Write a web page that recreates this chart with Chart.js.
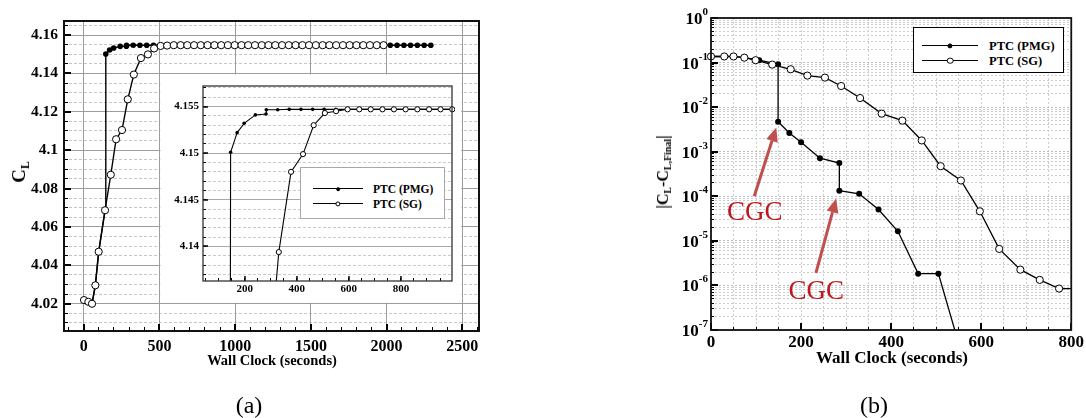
<!DOCTYPE html>
<html>
<head>
<meta charset="utf-8">
<title>PTC convergence</title>
<script src="https://cdn.jsdelivr.net/npm/chart.js@4.4.1/dist/chart.umd.min.js"></script>
<style>
  body { margin: 0; background: #fff; }
  #page { position: relative; width: 1086px; height: 418px; overflow: hidden; font-family: "Liberation Serif", "Times New Roman", serif; color: #000; }
  canvas { position: absolute; }
  .xtitle { position: absolute; transform: translateX(-50%); white-space: nowrap; font-weight: bold; }
  .ytitle { position: absolute; transform: translate(-50%, -50%) rotate(-90deg); white-space: nowrap; font-weight: bold; }
  .ytitle sub { font-size: 62%; vertical-align: baseline; position: relative; top: 0.3em; }
  .panel { position: absolute; transform: translate(-50%, -50%); font-size: 24px; white-space: nowrap; }
  .legend { position: absolute; background: #fff; box-sizing: border-box; font-weight: bold; }
  .legend .sample { position: absolute; border-top: 1.3px solid #000; height: 0; }
  .legend .dot { position: absolute; border-radius: 50%; box-sizing: border-box; transform: translate(-50%, -50%); border: 1px solid #000; }
  .legend .name { position: absolute; white-space: nowrap; line-height: 14px; transform: translateY(-50%); }
</style>
</head>
<body>
<div id="page">
  <canvas id="main-chart" width="500" height="418" style="left:0;top:0"></canvas>
  <canvas id="inset-chart" width="303" height="231" style="left:160px;top:73px"></canvas>
  <canvas id="err-chart" width="526" height="418" style="left:560px;top:0"></canvas>

  <div class="ytitle" style="left:19px;top:172px;font-size:19px">C<sub>L</sub></div>
  <div class="xtitle" style="left:272px;top:352px;font-size:14.5px">Wall Clock (seconds)</div>
  <div class="ytitle" style="left:663px;top:172px;font-size:16px">|C<sub>L</sub>-C<sub>L,Final</sub>|</div>
  <div class="xtitle" style="left:892px;top:348px;font-size:17px">Wall Clock (seconds)</div>

  <div class="legend" id="inset-legend" style="left:300px;top:167px;width:145px;height:52px;border:1px solid #a8a8a8;font-size:11.5px"></div>
  <div class="legend" id="err-legend" style="left:913px;top:27px;width:151px;height:46px;border:1.5px solid #000;font-size:12.5px"></div>

  <div class="panel" style="left:249px;top:405px">(a)</div>
  <div class="panel" style="left:874px;top:405px">(b)</div>
</div>

<script>
const seriesNames = ['PTC (PMG)', 'PTC (SG)'];

// (a) lift coefficient vs wall clock
const pmgTime = [2, 31, 55, 77, 99, 141, 146, 171, 198, 241,
    282, 283, 327, 371, 416, 461, 505, 550, 595, 640,
    684, 729, 773, 818, 863, 908, 952, 997, 1042, 1086,
    1131, 1176, 1220, 1265, 1310, 1354, 1399, 1444, 1488, 1533,
    1578, 1622, 1667, 1712, 1756, 1801, 1846, 1890, 1935, 1980,
    2024, 2069, 2114, 2158, 2203, 2248, 2292];
const pmgCl = [4.0219, 4.0210, 4.0200, 4.0296, 4.0471, 4.0687, 4.1501, 4.1522, 4.1532, 4.1541,
    4.1542, 4.15465, 4.15465, 4.1547, 4.1547, 4.1547, 4.1547, 4.1547, 4.1547, 4.1547,
    4.1547, 4.1547, 4.1547, 4.1547, 4.1547, 4.1547, 4.1547, 4.1547, 4.1547, 4.1547,
    4.1547, 4.1547, 4.1547, 4.1547, 4.1547, 4.1547, 4.1547, 4.1547, 4.1547, 4.1547,
    4.1547, 4.1547, 4.1547, 4.1547, 4.1547, 4.1547, 4.1547, 4.1547, 4.1547, 4.1547,
    4.1547, 4.1547, 4.1547, 4.1547, 4.1547, 4.1547, 4.1547];
const sgTime = [2, 31, 55, 77, 99, 141, 179, 214, 253, 291,
    331, 378, 424, 465, 508, 551, 595, 640, 684, 729,
    773, 818, 863, 908, 952, 997, 1042, 1086, 1131, 1176,
    1220, 1265, 1310, 1354, 1399, 1444, 1488, 1533, 1578, 1622,
    1667, 1712, 1756, 1801, 1846, 1890, 1935, 1980];
const sgCl = [4.0219, 4.0210, 4.0200, 4.0296, 4.0471, 4.0687, 4.0872, 4.1057, 4.1105, 4.1265,
    4.1394, 4.1480, 4.1499, 4.1530, 4.1543, 4.1545, 4.1547, 4.1547, 4.1547, 4.1547,
    4.1547, 4.1547, 4.1547, 4.1547, 4.1547, 4.1547, 4.1547, 4.1547, 4.1547, 4.1547,
    4.1547, 4.1547, 4.1547, 4.1547, 4.1547, 4.1547, 4.1547, 4.1547, 4.1547, 4.1547,
    4.1547, 4.1547, 4.1547, 4.1547, 4.1547, 4.1547, 4.1547, 4.1547];

// (b) |CL - CL,final| vs wall clock
const pmgErrTime = [0, 29.5, 50, 74, 107, 149, 149, 174, 200, 242, 285, 285, 329, 372, 415, 460, 505, 550];
const pmgErr = [0.137, 0.137, 0.137, 0.129, 0.113, 0.0916, 0.00472, 0.00262, 0.00164, 0.000718,
    0.000555, 0.000133, 0.000114, 5.05e-5, 1.64e-5, 1.84e-6, 1.84e-6, 5e-8];
const sgErrTime = [0, 29.5, 50, 74, 99, 136, 177, 214, 253, 289, 331, 379, 425, 468, 510, 555, 597, 640, 687, 730, 773, 818];
const sgErr = [0.137, 0.137, 0.137, 0.129, 0.113, 0.090, 0.0707, 0.051, 0.046, 0.0298, 0.016,
    0.00715, 0.00498, 0.00179, 0.000474, 0.000226, 4.6e-5, 6.6e-6, 2.26e-6, 1.33e-6, 8.5e-7, 8.5e-7];

// tick values and labels
const mainXTicks = [0, 500, 1000, 1500, 2000, 2500];
const mainYTicks = [4.02, 4.04, 4.06, 4.08, 4.1, 4.12, 4.14, 4.16];
const mainYLabels = ['4.02', '4.04', '4.06', '4.08', '4.1', '4.12', '4.14', '4.16'];
const insetXTicks = [200, 400, 600, 800];
const insetYTicks = [4.14, 4.145, 4.15, 4.155];
const insetYLabels = ['4.14', '4.145', '4.15', '4.155'];
const errXTicks = [0, 200, 400, 600, 800];
const errYTicks = [1e-7, 1e-6, 1e-5, 1e-4, 1e-3, 1e-2, 1e-1, 1];
const errYExponents = ['-7', '-6', '-5', '-4', '-3', '-2', '-1', '0'];

// CGC annotations (data coordinates of panel b)
const cgcText = ['CGC', 'CGC'];
const cgcTextTime = [97, 234];
const cgcTextErr = [4.3e-5, 7.2e-7];
const cgcTailTime = [96, 233];
const cgcTailErr = [1.0e-4, 1.9e-6];
const cgcHeadTime = [145, 278];
const cgcHeadErr = [3.5e-3, 8.9e-5];

const serif = '"Liberation Serif", "Times New Roman", serif';

function points(xs, ys) {
    return xs.map((x, i) => ({ x: x, y: ys[i] }));
}

function stepValues(from, to, step) {
    const out = [];
    for (let k = Math.ceil(from / step - 1e-9); k * step <= to + 1e-9; k++) {
        out.push(k * step);
    }
    return out;
}

function logMinorValues(fromExp, toExp) {
    const out = [];
    for (let e = fromExp; e < toExp; e++) {
        for (let m = 2; m <= 9; m++) out.push(m * Math.pow(10, e));
    }
    return out;
}

function fixedSize(size) {
    return function (scale) {
        if (scale.isHorizontal()) scale.height = size;
        else scale.width = size;
    };
}

function useTicks(values) {
    return function (scale) {
        scale.ticks = values.map(v => ({ value: v }));
    };
}

function inRange(scale, v) {
    const lo = Math.min(scale.min, scale.max), hi = Math.max(scale.min, scale.max);
    return v >= lo - 1e-9 && v <= hi + 1e-9;
}

function snap(p, w) {
    return Math.round(w) % 2 === 1 ? Math.round(p - 0.5) + 0.5 : Math.round(p);
}

function drawGrid(chart, spec) {
    const ctx = chart.ctx, area = chart.chartArea;
    const scale = chart.scales[spec.axis];
    ctx.strokeStyle = spec.color;
    ctx.lineWidth = spec.width;
    ctx.setLineDash(spec.dash || []);
    ctx.beginPath();
    spec.values.forEach(v => {
        if (!inRange(scale, v)) return;
        const p = snap(scale.getPixelForValue(v), spec.width);
        if (spec.axis === 'x') {
            ctx.moveTo(p, area.top);
            ctx.lineTo(p, area.bottom);
        } else {
            ctx.moveTo(area.left, p);
            ctx.lineTo(area.right, p);
        }
    });
    ctx.stroke();
    ctx.setLineDash([]);
}

function drawTickMarks(chart, spec) {
    const ctx = chart.ctx, area = chart.chartArea;
    const scale = chart.scales[spec.axis];
    ctx.strokeStyle = '#000';
    ctx.lineWidth = spec.width;
    ctx.beginPath();
    spec.values.forEach(v => {
        if (!inRange(scale, v)) return;
        const p = snap(scale.getPixelForValue(v), spec.width);
        if (spec.axis === 'x') {
            ctx.moveTo(p, area.bottom);
            ctx.lineTo(p, area.bottom - spec.len);
        } else {
            ctx.moveTo(area.left, p);
            ctx.lineTo(area.left + spec.len, p);
        }
    });
    ctx.stroke();
}

function drawArrow(ctx, x1, y1, x2, y2, color) {
    const ang = Math.atan2(y2 - y1, x2 - x1);
    const headLen = 14, headHalf = 6;
    const bx = x2 - headLen * Math.cos(ang), by = y2 - headLen * Math.sin(ang);
    ctx.strokeStyle = color;
    ctx.lineWidth = 3;
    ctx.beginPath();
    ctx.moveTo(x1, y1);
    ctx.lineTo(bx, by);
    ctx.stroke();
    ctx.fillStyle = color;
    ctx.beginPath();
    ctx.moveTo(x2, y2);
    ctx.lineTo(bx + headHalf * Math.sin(ang), by - headHalf * Math.cos(ang));
    ctx.lineTo(bx - headHalf * Math.sin(ang), by + headHalf * Math.cos(ang));
    ctx.closePath();
    ctx.fill();
}

const axisDecor = {
    id: 'axisDecor',
    beforeDatasetsDraw(chart, args, opts) {
        const ctx = chart.ctx, area = chart.chartArea;
        ctx.save();
        ctx.fillStyle = '#fff';
        ctx.fillRect(area.left, area.top, area.right - area.left, area.bottom - area.top);
        (opts.grid || []).forEach(g => drawGrid(chart, g));
        if (opts.blank) {
            const xs = chart.scales.x, ys = chart.scales.y;
            const l = xs.getPixelForValue(opts.blank.x[0]) + 1;
            const r = xs.getPixelForValue(opts.blank.x[1]) - 1;
            const t = ys.getPixelForValue(opts.blank.y[1]) + 1;
            const b = ys.getPixelForValue(opts.blank.y[0]) - 1;
            ctx.fillStyle = '#fff';
            ctx.fillRect(l, t, r - l, b - t);
        }
        ctx.restore();
    },
    afterDatasetsDraw(chart, args, opts) {
        const ctx = chart.ctx, area = chart.chartArea;
        ctx.save();
        (opts.ticks || []).forEach(t => drawTickMarks(chart, t));
        if (opts.frame) {
            ctx.strokeStyle = opts.frame.color;
            ctx.lineWidth = opts.frame.width;
            ctx.strokeRect(area.left, area.top, area.right - area.left, area.bottom - area.top);
        }
        ctx.restore();
    },
    afterDraw(chart, args, opts) {
        const ctx = chart.ctx;
        ctx.save();
        if (opts.expLabels) {
            const ys = chart.scales.y;
            const right = chart.chartArea.left - 3;
            opts.expLabels.values.forEach((v, i) => {
                const y = ys.getPixelForValue(v);
                ctx.fillStyle = '#000';
                ctx.textBaseline = 'alphabetic';
                ctx.textAlign = 'left';
                ctx.font = 'bold 11px ' + serif;
                const exp = opts.expLabels.exponents[i];
                const ew = ctx.measureText(exp).width;
                ctx.fillText(exp, right - ew, y - 3);
                ctx.font = 'bold 17px ' + serif;
                const bw = ctx.measureText('10').width;
                ctx.fillText('10', right - ew - bw, y + 6);
            });
        }
        if (opts.notes) {
            const xs = chart.scales.x, ys = chart.scales.y;
            const n = opts.notes;
            n.text.forEach((txt, i) => {
                drawArrow(ctx,
                    xs.getPixelForValue(n.tailX[i]), ys.getPixelForValue(n.tailY[i]),
                    xs.getPixelForValue(n.headX[i]), ys.getPixelForValue(n.headY[i]), '#c0504d');
                ctx.font = '27px ' + serif;
                ctx.fillStyle = '#c0161d';
                ctx.textAlign = 'center';
                ctx.textBaseline = 'middle';
                ctx.fillText(txt, xs.getPixelForValue(n.textX[i]), ys.getPixelForValue(n.textY[i]));
            });
        }
        ctx.restore();
    }
};

function baseOptions(padding) {
    return {
        responsive: false,
        animation: false,
        events: [],
        layout: { padding: padding },
        plugins: {
            legend: { display: false },
            tooltip: { enabled: false }
        }
    };
}

function openSeries(label, xs, ys, lineW, r) {
    return {
        label: label,
        data: points(xs, ys),
        borderColor: '#000',
        borderWidth: lineW,
        pointRadius: r,
        pointBorderWidth: 1,
        pointBackgroundColor: '#fff',
        pointBorderColor: '#000',
        tension: 0
    };
}

function filledSeries(label, xs, ys, lineW, r) {
    return {
        label: label,
        data: points(xs, ys),
        borderColor: '#000',
        borderWidth: lineW,
        pointRadius: r,
        pointBorderWidth: 0,
        pointBackgroundColor: '#000',
        pointBorderColor: '#000',
        tension: 0
    };
}

function drawMainChart() {
    const options = baseOptions({ left: 0, top: 21, right: 21, bottom: 0 });
    options.scales = {
        x: {
            type: 'linear', min: -130, max: 2610,
            afterFit: fixedSize(87), afterBuildTicks: useTicks(mainXTicks),
            grid: { display: false, drawTicks: false }, border: { display: false },
            ticks: { autoSkip: false, maxRotation: 0, padding: 6, color: '#000',
                font: { family: serif, size: 16, weight: 'bold' },
                callback: v => String(v) }
        },
        y: {
            type: 'linear', min: 4.0058, max: 4.1673,
            afterFit: fixedSize(64), afterBuildTicks: useTicks(mainYTicks),
            grid: { display: false, drawTicks: false }, border: { display: false },
            ticks: { autoSkip: false, padding: 6, color: '#000',
                font: { family: serif, size: 15.5, weight: 'bold' },
                callback: (v, i) => mainYLabels[i] }
        }
    };
    options.plugins.axisDecor = {
        grid: [
            { axis: 'y', values: stepValues(4.005, 4.17, 0.005), color: '#c6c6c6', width: 1, dash: [3, 2] },
            { axis: 'y', values: mainYTicks, color: '#9c9c9c', width: 1 },
            { axis: 'x', values: mainXTicks, color: '#9c9c9c', width: 1 }
        ],
        blank: { x: [500, 2500], y: [4.02, 4.14] },
        ticks: [
            { axis: 'x', values: stepValues(-100, 2600, 100), len: 4, width: 1 },
            { axis: 'x', values: mainXTicks, len: 7, width: 2 },
            { axis: 'y', values: stepValues(4.01, 4.165, 0.005), len: 4, width: 1 },
            { axis: 'y', values: mainYTicks, len: 7, width: 2 }
        ],
        frame: { color: '#111', width: 2 }
    };
    new Chart(document.getElementById('main-chart'), {
        type: 'line',
        data: {
            datasets: [
                openSeries(seriesNames[1], sgTime, sgCl, 1.4, 3.6),
                filledSeries(seriesNames[0], pmgTime, pmgCl, 1.4, 2.8)
            ]
        },
        options: options,
        plugins: [axisDecor]
    });
}

function drawInsetChart() {
    const options = baseOptions({ left: 0, top: 13, right: 11, bottom: 0 });
    options.scales = {
        x: {
            type: 'linear', min: 40, max: 996,
            afterFit: fixedSize(23), afterBuildTicks: useTicks(insetXTicks),
            grid: { display: false, drawTicks: false }, border: { display: false },
            ticks: { autoSkip: false, maxRotation: 0, padding: 2, color: '#000',
                font: { family: serif, size: 11, weight: 'bold' },
                callback: v => String(v) }
        },
        y: {
            type: 'linear', min: 4.1363, max: 4.1572,
            afterFit: fixedSize(43), afterBuildTicks: useTicks(insetYTicks),
            grid: { display: false, drawTicks: false }, border: { display: false },
            ticks: { autoSkip: false, padding: 4, color: '#000',
                font: { family: serif, size: 11, weight: 'bold' },
                callback: (v, i) => insetYLabels[i] }
        }
    };
    options.plugins.axisDecor = {
        grid: [
            { axis: 'y', values: stepValues(4.136, 4.158, 0.001), color: '#cacaca', width: 1, dash: [3, 2] },
            { axis: 'y', values: insetYTicks, color: '#a8a8a8', width: 1 }
        ],
        ticks: [
            { axis: 'x', values: stepValues(50, 1000, 50), len: 3, width: 1 },
            { axis: 'x', values: insetXTicks, len: 5, width: 1.5 },
            { axis: 'y', values: stepValues(4.137, 4.157, 0.001), len: 3, width: 1 },
            { axis: 'y', values: insetYTicks, len: 5, width: 1.5 }
        ],
        frame: { color: '#333', width: 1.3 }
    };
    const sg = openSeries(seriesNames[1], sgTime, sgCl, 1.1, 2.6);
    const pmg = filledSeries(seriesNames[0], pmgTime, pmgCl, 1.1, 1.8);
    sg.clip = { left: 0, top: 0, right: 3, bottom: 0 };
    pmg.clip = { left: 0, top: 0, right: 3, bottom: 0 };
    new Chart(document.getElementById('inset-chart'), {
        type: 'line',
        data: { datasets: [sg, pmg] },
        options: options,
        plugins: [axisDecor]
    });
}

function drawErrorChart() {
    const options = baseOptions({ left: 0, top: 18, right: 13, bottom: 0 });
    options.scales = {
        x: {
            type: 'linear', min: 0, max: 800,
            afterFit: fixedSize(88), afterBuildTicks: useTicks(errXTicks),
            grid: { display: false, drawTicks: false }, border: { display: false },
            ticks: { autoSkip: false, maxRotation: 0, padding: 2, color: '#000',
                font: { family: serif, size: 17, weight: 'bold' },
                callback: v => String(v) }
        },
        y: {
            type: 'logarithmic', min: 1e-7, max: 1,
            afterFit: fixedSize(151), afterBuildTicks: useTicks(errYTicks),
            grid: { display: false, drawTicks: false }, border: { display: false },
            ticks: { display: false }
        }
    };
    const minorLog = logMinorValues(-7, 0);
    options.plugins.axisDecor = {
        grid: [
            { axis: 'x', values: stepValues(0, 800, 50), color: '#cdcdcd', width: 1, dash: [2, 2] },
            { axis: 'y', values: minorLog, color: '#cdcdcd', width: 1, dash: [2, 2] },
            { axis: 'y', values: errYTicks, color: '#bdbdbd', width: 1, dash: [2, 2] }
        ],
        ticks: [
            { axis: 'x', values: stepValues(0, 800, 50), len: 3, width: 1 },
            { axis: 'x', values: errXTicks, len: 7, width: 2 },
            { axis: 'y', values: minorLog, len: 3, width: 1 },
            { axis: 'y', values: errYTicks, len: 7, width: 2 }
        ],
        frame: { color: '#111', width: 1.8 },
        expLabels: { values: errYTicks, exponents: errYExponents },
        notes: {
            text: cgcText, textX: cgcTextTime, textY: cgcTextErr,
            tailX: cgcTailTime, tailY: cgcTailErr, headX: cgcHeadTime, headY: cgcHeadErr
        }
    };
    const sg = openSeries(seriesNames[1], sgErrTime, sgErr, 1.3, 3.6);
    const pmg = filledSeries(seriesNames[0], pmgErrTime, pmgErr, 1.3, 3);
    sg.clip = { left: 6, top: 6, right: 0, bottom: 0 };
    pmg.clip = { left: 6, top: 6, right: 0, bottom: 0 };
    new Chart(document.getElementById('err-chart'), {
        type: 'line',
        data: { datasets: [sg, pmg] },
        options: options,
        plugins: [axisDecor]
    });
}

function buildLegend(id, rows, sample, fillR, openR, textLeft) {
    const box = document.getElementById(id);
    seriesNames.forEach((name, i) => {
        const y = rows[i];
        const line = document.createElement('div');
        line.className = 'sample';
        line.style.left = sample[0] + 'px';
        line.style.width = (sample[1] - sample[0]) + 'px';
        line.style.top = (y - 0.6) + 'px';
        box.appendChild(line);

        const dot = document.createElement('div');
        dot.className = 'dot';
        const r = i === 0 ? fillR : openR;
        dot.style.width = dot.style.height = (2 * r) + 'px';
        dot.style.background = i === 0 ? '#000' : '#fff';
        dot.style.left = ((sample[0] + sample[1]) / 2) + 'px';
        dot.style.top = y + 'px';
        box.appendChild(dot);

        const label = document.createElement('div');
        label.className = 'name';
        label.textContent = name;
        label.style.left = textLeft + 'px';
        label.style.top = y + 'px';
        box.appendChild(label);
    });
}

drawMainChart();
drawInsetChart();
drawErrorChart();
buildLegend('inset-legend', [21, 36], [12, 62], 1.8, 2.6, 72);
buildLegend('err-legend', [17.5, 32.5], [8, 64], 2.6, 3.3, 75);
</script>
</body>
</html>
